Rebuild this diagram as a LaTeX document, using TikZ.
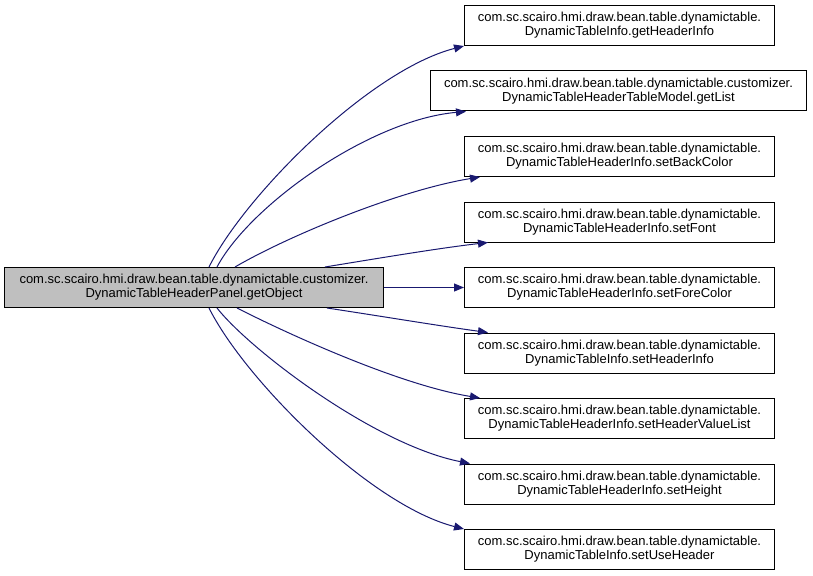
\documentclass[tikz,border=0pt]{standalone}
\usepackage{fontspec}
\setmainfont{Liberation Sans}
\usetikzlibrary{arrows.meta}
\definecolor{edgecol}{HTML}{191970}
\definecolor{srcfill}{HTML}{BFBFBF}
\begin{document}
\begin{tikzpicture}[x=1pt,y=-1pt,
  box/.style={draw=black, fill=white, line width=1pt, inner sep=0pt, align=center,
    font=\fontsize{13}{14}\selectfont, minimum height=40pt, minimum width=310pt, anchor=north west},
  edge/.style={draw=edgecol, line width=1pt, -{Triangle[length=10pt,width=8pt]}}]
\useasboundingbox (0,0) rectangle (813,575);

\node[box, fill=srcfill, minimum width=379pt] (src) at (4,267)
  {com.sc.scairo.hmi.draw.bean.table.dynamictable.customizer.\\DynamicTableHeaderPanel.getObject};

\node[box] (t1) at (464,5) {com.sc.scairo.hmi.draw.bean.table.dynamictable.\\DynamicTableInfo.getHeaderInfo};
\node[box, minimum width=376pt] (t2) at (430,70.5) {com.sc.scairo.hmi.draw.bean.table.dynamictable.customizer.\\DynamicTableHeaderTableModel.getList};
\node[box] (t3) at (464,136) {com.sc.scairo.hmi.draw.bean.table.dynamictable.\\DynamicTableHeaderInfo.setBackColor};
\node[box] (t4) at (464,201.5) {com.sc.scairo.hmi.draw.bean.table.dynamictable.\\DynamicTableHeaderInfo.setFont};
\node[box] (t5) at (464,267) {com.sc.scairo.hmi.draw.bean.table.dynamictable.\\DynamicTableHeaderInfo.setForeColor};
\node[box] (t6) at (464,332.5) {com.sc.scairo.hmi.draw.bean.table.dynamictable.\\DynamicTableInfo.setHeaderInfo};
\node[box] (t7) at (464,398) {com.sc.scairo.hmi.draw.bean.table.dynamictable.\\DynamicTableHeaderInfo.setHeaderValueList};
\node[box] (t8) at (464,463.5) {com.sc.scairo.hmi.draw.bean.table.dynamictable.\\DynamicTableHeaderInfo.setHeight};
\node[box] (t9) at (464,529) {com.sc.scairo.hmi.draw.bean.table.dynamictable.\\DynamicTableInfo.setUseHeader};

\draw[edge] ([xshift=205pt]src.north west) .. controls (245,195) and (370,70) .. (t1.south west);
\draw[edge] ([xshift=213pt]src.north west) .. controls (250,205) and (370,120) .. ([xshift=36pt]t2.south west);
\draw[edge] ([xshift=231pt]src.north west) .. controls (290,235) and (400,190) .. ([xshift=16pt]t3.south west);
\draw[edge] ([xshift=321pt]src.north west) .. controls (380,258) and (440,248) .. ([xshift=24pt]t4.south west);
\draw[edge] (src.east) -- (t5.west);
\draw[edge] ([xshift=323pt]src.south west) .. controls (380,316) and (440,326) .. ([xshift=24pt]t6.north west);
\draw[edge] ([xshift=233pt]src.south west) .. controls (290,335) and (400,385) .. ([xshift=16pt]t7.north west);
\draw[edge] ([xshift=213pt]src.south west) .. controls (250,350) and (375,445) .. ([xshift=6pt]t8.north west);
\draw[edge] ([xshift=205pt]src.south west) .. controls (245,380) and (370,505) .. (t9.north west);
\end{tikzpicture}
\end{document}
